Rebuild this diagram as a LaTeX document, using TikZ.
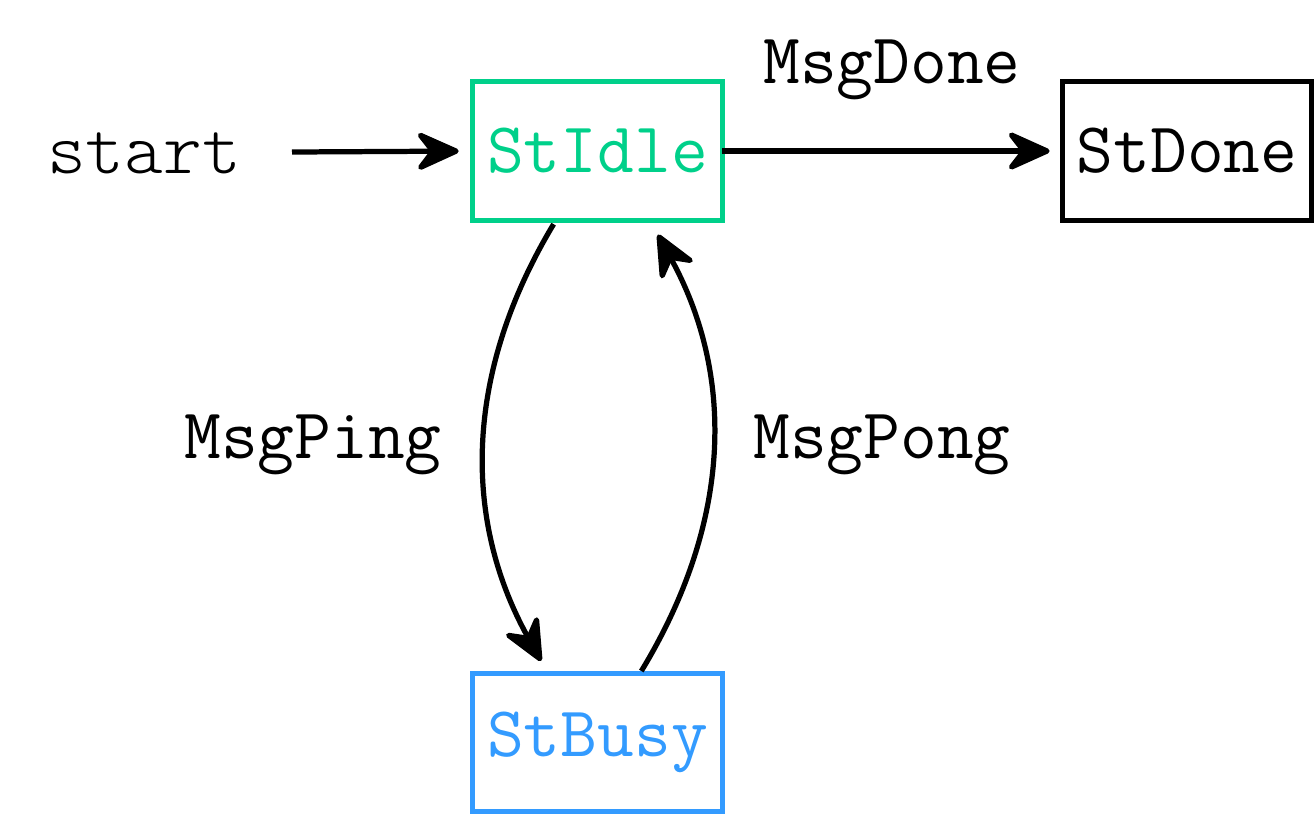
\documentclass[tikz,border=0pt]{standalone}
\usepackage{fontspec}
\newfontfamily\lightmono{Latin Modern Mono Light}
\usetikzlibrary{arrows.meta}
\definecolor{idlegreen}{RGB}{0,208,138}
\definecolor{busyblue}{RGB}{51,155,255}
\begin{document}
\begin{tikzpicture}[x=0.21pt,y=-0.21pt,
  font=\fontsize{15}{18}\selectfont\ttfamily,
  state/.style={draw,line width=1.05pt,minimum width=52.3pt,minimum height=29pt,inner sep=0pt,outer sep=0pt},
  conn/.style={line width=1.1pt,-{Stealth[length=10.5pt,width=9.4pt,inset=3.6pt,round]}},
  lbl/.style={inner sep=0pt}]
\useasboundingbox (0,0) rectangle (1315,815);
\node[state,draw=idlegreen,text=idlegreen] (idle) at (597.5,151) {StIdle};
\node[state] (done) at (1187,151) {StDone};
\node[state,draw=busyblue,text=busyblue] (busy) at (597.5,742.5) {StBusy};
\node[lbl,font=\fontsize{15.5}{18}\selectfont\lightmono] (start) at (144,153) {start};
\coordinate (s0) at (292,152);
\draw[conn,shorten >=3pt] (s0) -- (idle.west);
\draw[conn,shorten >=2.7pt] (idle.east) -- (done.west);
\node[lbl] (ldone) at (892,70) {MsgDone};
\node[lbl] (lping) at (313,445) {MsgPing};
\node[lbl] (lpong) at (882,445) {MsgPong};
\draw[conn,shorten <=1pt,shorten >=3pt] ([xshift=-8.7pt]idle.south) to[bend right=30] ([xshift=-10.4pt]busy.north);
\draw[conn,shorten <=0.6pt,shorten >=3.5pt] ([xshift=8.9pt]busy.north) to[bend right=30] ([xshift=11pt]idle.south);
\end{tikzpicture}
\end{document}
